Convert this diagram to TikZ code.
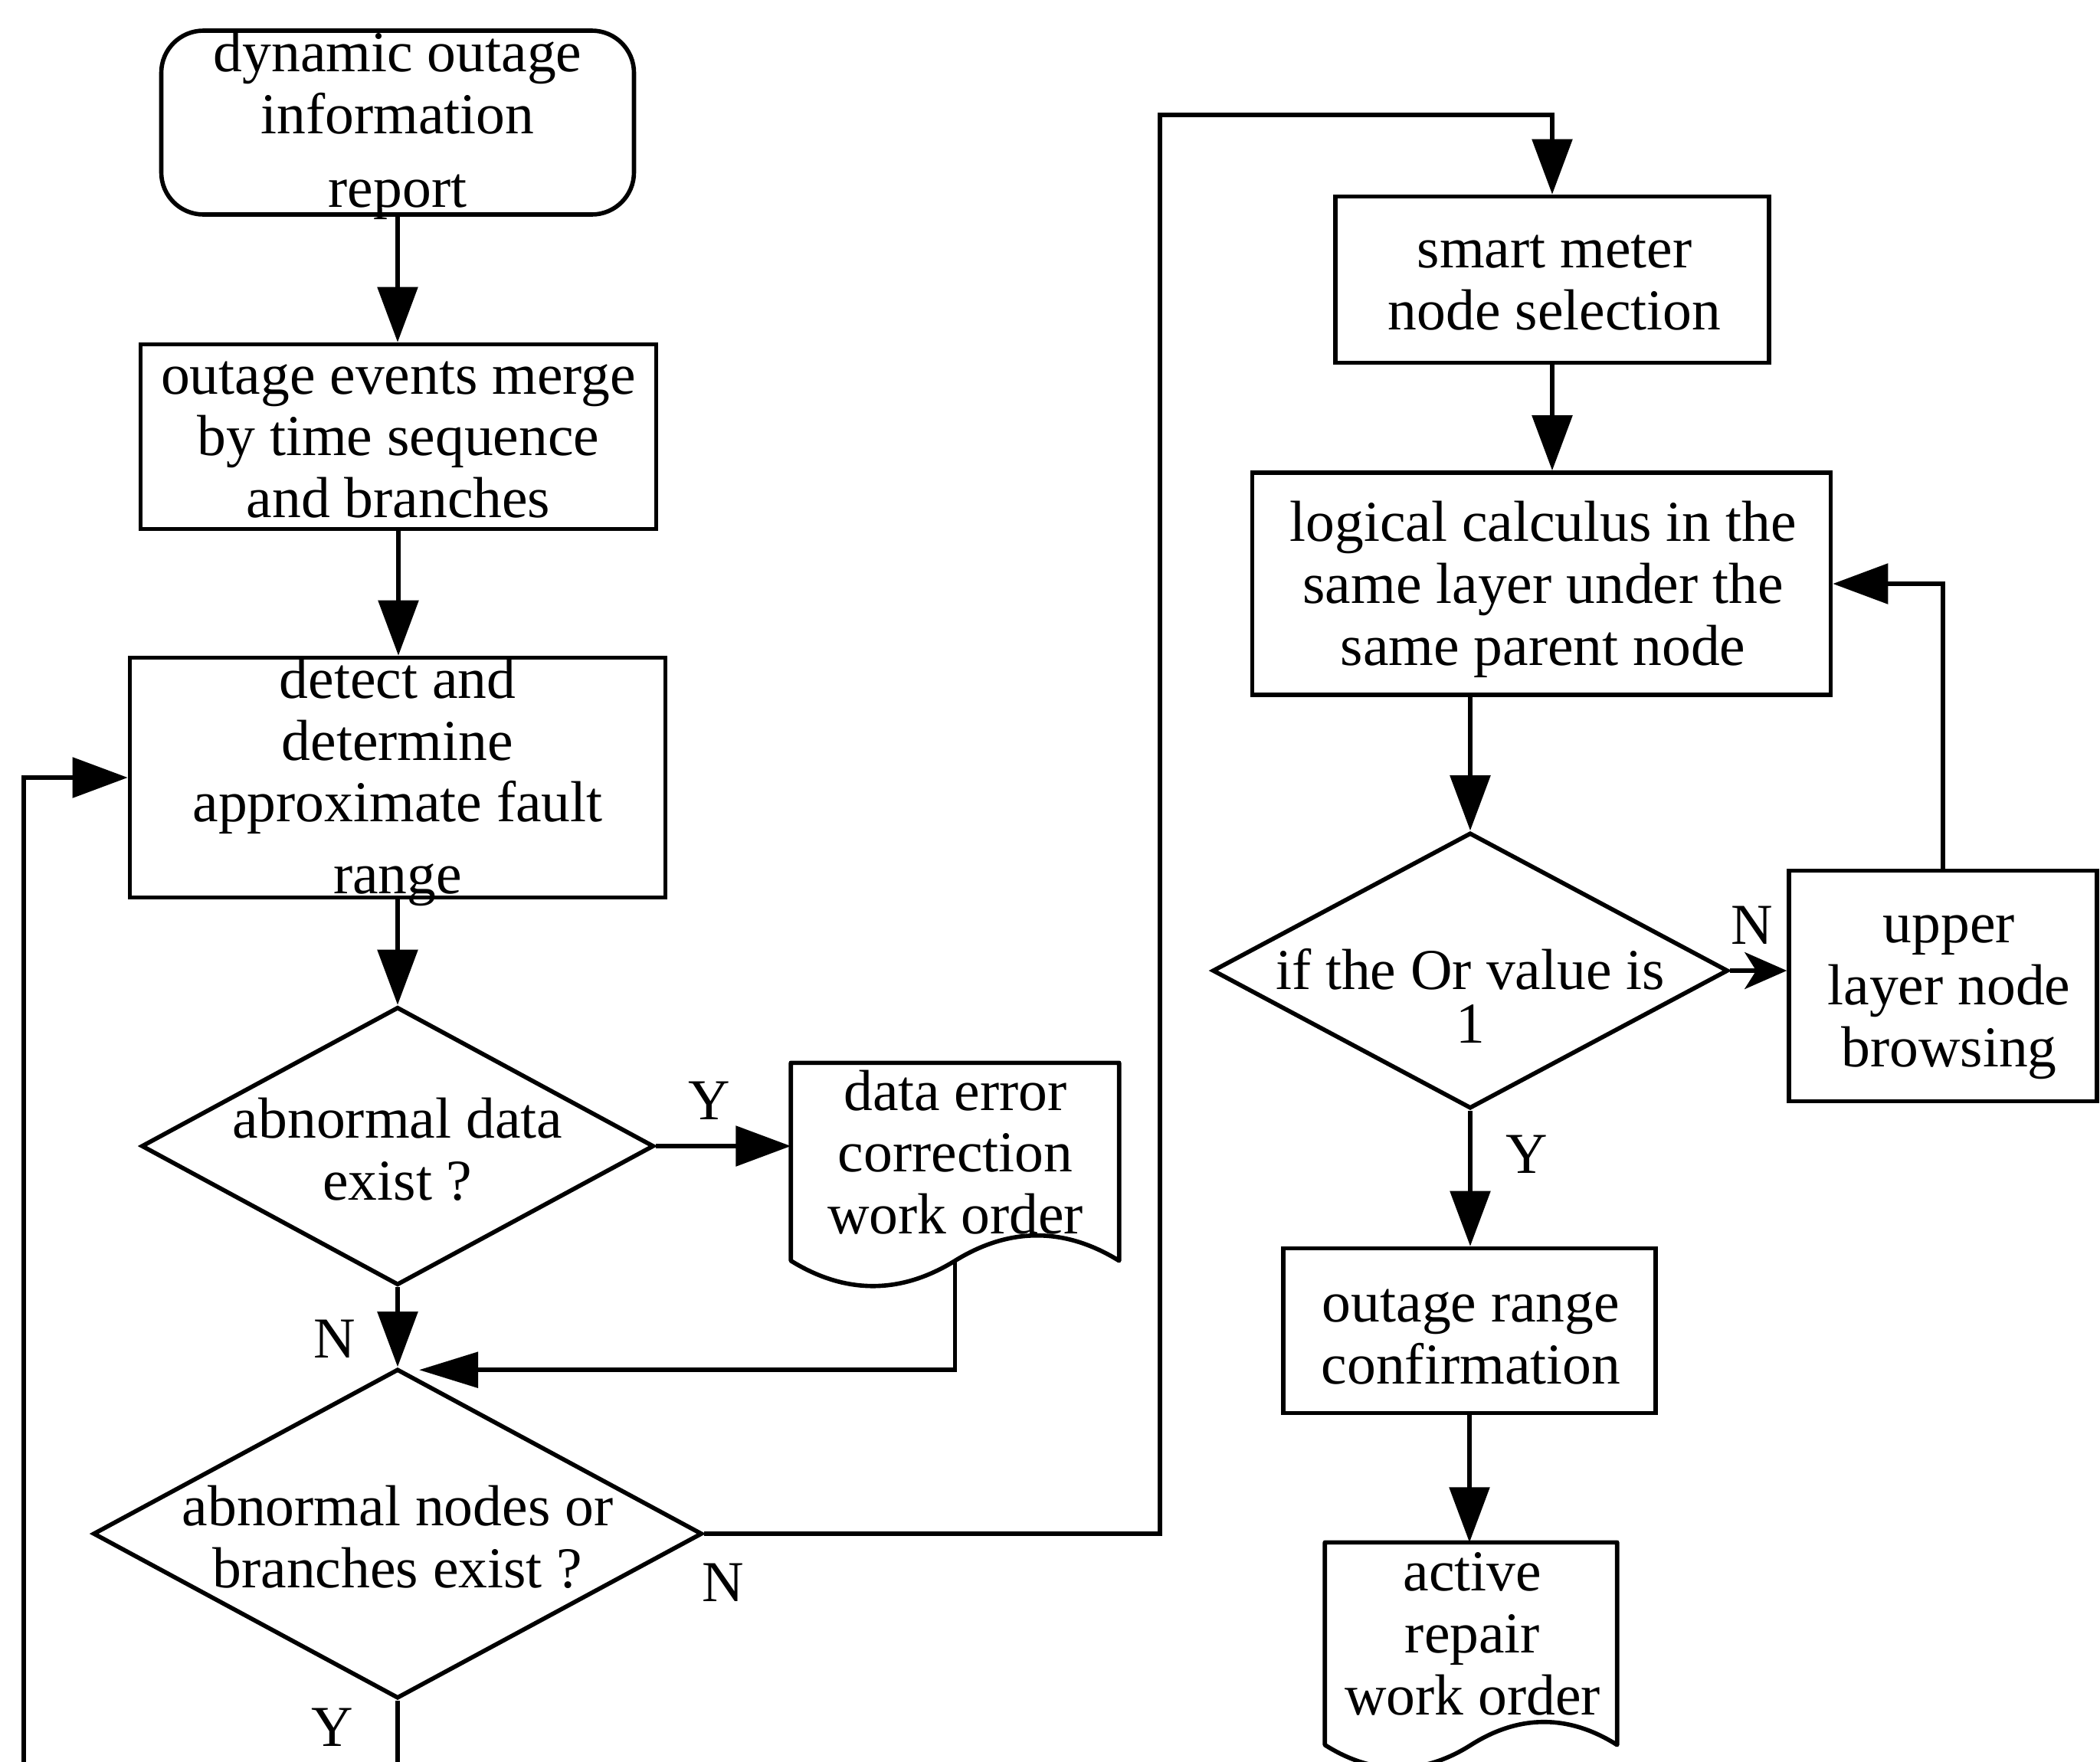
\documentclass[tikz,border=0pt]{standalone}
\usepackage{fontspec}
\setmainfont{Liberation Serif}
\usetikzlibrary{arrows.meta,shapes.geometric,calc}
\begin{document}
\begin{tikzpicture}[x=1cm,y=-1cm,
  every node/.style={font=\fontsize{21.5}{23}\selectfont},
  box/.style={draw, line width=1.6pt, inner sep=0pt},
  dia/.style={draw, diamond, line width=1.6pt, inner sep=0pt},
  txt/.style={align=center, inner sep=0pt},
  lab/.style={inner sep=0pt},
  ln/.style={line width=1.6pt},
  arr/.style={line width=1.6pt, -{Triangle[length=0.72cm,width=0.52cm]}},
  sarr/.style={line width=1.6pt, -{Stealth[length=0.55cm,width=0.48cm,inset=0.15cm]}},
]
\useasboundingbox (0,0) rectangle (27.41,23.00);

% left column
\node[box, rounded corners=0.55cm, minimum width=6.17cm, minimum height=2.40cm] (B1) at (5.19,1.60) {};
\node[txt] (B1t) at (5.19,1.64) {dynamic outage\\information\\[0.15cm]report};

\node[box, minimum width=6.73cm, minimum height=2.41cm] (B2) at (5.20,5.70) {};
\node[txt] (B2t) at (5.20,5.74) {outage events merge\\by time sequence\\and branches};

\node[box, minimum width=6.99cm, minimum height=3.13cm] (B3) at (5.19,10.15) {};
\node[txt] (B3t) at (5.19,10.21) {detect and\\determine\\approximate fault\\[0.13cm]range};

\node[dia, minimum width=6.69cm, minimum height=3.63cm] (D1) at (5.19,14.96) {};
\node[txt] (D1t) at (5.19,15.00) {abnormal data\\exist ?};

\node[draw=none, inner sep=0pt, minimum width=4.27cm, minimum height=2.57cm] (Doc1) at (12.465,15.165) {};
\draw[ln, line join=round] (Doc1.south west) -- (Doc1.north west) -- (Doc1.north east) -- (Doc1.south east)
  .. controls ($(Doc1.south east)+(-0.71,-0.44)$) and ($(Doc1.south)+(0.71,-0.44)$) .. (Doc1.south)
  .. controls ($(Doc1.south)+(-0.71,0.44)$) and ($(Doc1.south west)+(0.71,0.44)$) .. (Doc1.south west) -- cycle;
\node[txt] (Doc1t) at (12.47,15.04) {data error\\correction\\work order};

\node[dia, minimum width=7.95cm, minimum height=4.30cm] (D2) at (5.19,20.02) {};
\node[txt] (D2t) at (5.19,20.06) {abnormal nodes or\\branches exist ?};

% right column
\node[box, minimum width=5.66cm, minimum height=2.17cm] (B4) at (20.26,3.65) {};
\node[txt] (B4t) at (20.29,3.69) {smart meter\\node selection};

\node[box, minimum width=7.55cm, minimum height=2.90cm] (B5) at (20.12,7.62) {};
\node[txt] (B5t) at (20.14,7.69) {logical calculus in the\\same layer under the\\same parent node};

\node[dia, minimum width=6.73cm, minimum height=3.60cm] (D3) at (19.19,12.67) {};
\node[txt] (D3t) at (19.19,13.00) {if the Or value is\\[-3pt]1};

\node[box, minimum width=4.02cm, minimum height=3.01cm] (B6) at (25.36,12.87) {};
\node[txt] (B6t) at (25.44,13.02) {upper\\layer node\\browsing};

\node[box, minimum width=4.86cm, minimum height=2.15cm] (B7) at (19.18,17.37) {};
\node[txt] (B7t) at (19.20,17.45) {outage range\\confirmation};

\node[draw=none, inner sep=0pt, minimum width=3.80cm, minimum height=2.63cm] (Doc2) at (19.20,21.455) {};
\draw[ln, line join=round] (Doc2.south west) -- (Doc2.north west) -- (Doc2.north east) -- (Doc2.south east)
  .. controls ($(Doc2.south east)+(-0.63,-0.40)$) and ($(Doc2.south)+(0.63,-0.40)$) .. (Doc2.south)
  .. controls ($(Doc2.south)+(-0.63,0.40)$) and ($(Doc2.south west)+(0.63,0.40)$) .. (Doc2.south west) -- cycle;
\node[txt] (Doc2t) at (19.22,21.33) {active\\repair\\work order};

% connectors
\draw[arr] (B1.south) -- (B1.south |- B2.north);
\draw[arr] (B2.south) -- (B2.south |- B3.north);
\draw[arr] (B3.south) -- (D1.north);
\draw[arr] (D1.east) -- (D1.east -| Doc1.west);
\draw[arr] (D1.south) -- (D2.north);
\coordinate (e1) at ($(D2.north)+(0.28,0.04)$);
\draw[ln, -{Triangle[length=0.77cm,width=0.46cm]}] (Doc1.south) |- (e1);
\coordinate (c1) at (15.14,1.50);
\draw[arr] (D2.east) -| (c1) -| (B4.north);
\coordinate (lb) at (0.31,23.10);
\draw[ln] (D2.south) -- (D2.south |- lb);
\draw[arr] (lb) |- (B3.west);

\draw[arr] (B4.south) -- (B4.south |- B5.north);
\draw[arr] (D3.north |- B5.south) -- (D3.north);
\draw[sarr] (D3.east) -- (D3.east -| B6.west);
\draw[arr] (B6.north) |- (B5.east);
\draw[arr] (D3.south) -- (D3.south |- B7.north);
\draw[arr] (B7.south) -- (B7.south |- Doc2.north);

% labels
\node[lab] (Y1) at (9.26,14.37) {Y};
\node[lab] (N1) at (4.37,17.48) {N};
\node[lab] (N2) at (9.44,20.66) {N};
\node[lab] (Y2) at (4.34,22.55) {Y};
\node[lab] (N3) at (22.87,12.08) {N};
\node[lab] (Y3) at (19.93,15.07) {Y};
\end{tikzpicture}
\end{document}
